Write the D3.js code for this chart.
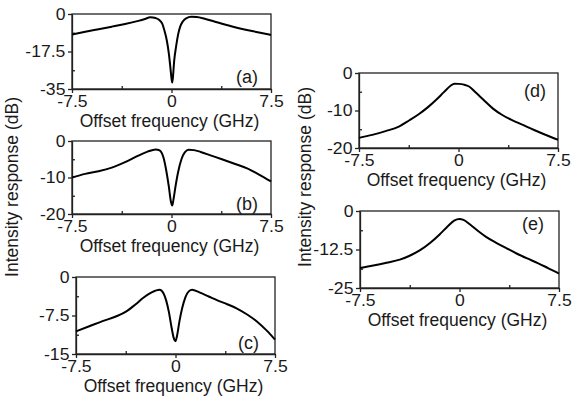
<!DOCTYPE html>
<html>
<head>
<meta charset="utf-8">
<script src="https://cdn.jsdelivr.net/npm/d3@7"></script>
<style>
  body { margin: 0; background: #fff; }
  text { font-family: "Liberation Sans", Arial, sans-serif; fill: #1a1a1a; }
</style>
</head>
<body>
<svg id="fig" width="584" height="403"></svg>
<script>
// offset frequency ticks (GHz), shared by all panels
var xTicks = [-7.5, 0, 7.5];
var xMinor = [-3.75, 3.75];

// (a)
var freqA = [-7.5, -6.5, -5.5, -4.5, -3.5, -2.5, -2.0, -1.6, -1.2, -0.9, -0.7, -0.5, -0.35, -0.2, -0.1, 0.0, 0.05, 0.1, 0.2, 0.35, 0.5, 0.65, 0.85, 1.1, 1.5, 1.9, 2.5, 3.5, 4.5, 5.5, 6.5, 7.5];
var respA = [-9.6, -8.3, -7.1, -5.9, -4.7, -3.2, -2.3, -1.5, -1.9, -2.9, -4.5, -8.5, -12.5, -18.5, -24, -30, -32, -30, -22, -15, -9.5, -6, -3.5, -2.0, -1.3, -1.4, -2.2, -4.0, -5.7, -7.2, -8.5, -9.8];
var yTicksA = [-35, -17.5, 0];
var yMinorA = [-26.25, -8.75];

// (b)
var freqB = [-7.5, -6.5, -5.5, -4.5, -3.5, -2.5, -1.8, -1.2, -0.9, -0.6, -0.4, -0.2, -0.05, 0.05, 0.15, 0.3, 0.5, 0.75, 1.0, 1.3, 1.7, 2.2, 3.0, 3.8, 4.8, 5.7, 6.6, 7.5];
var respB = [-10.0, -9.0, -8.3, -7.3, -5.8, -4.0, -2.9, -2.3, -2.6, -4.6, -8, -12.5, -16.5, -17.7, -16, -12.5, -8.5, -5, -3.1, -2.4, -2.5, -3.0, -4.0, -5.0, -6.3, -7.5, -9.2, -11.1];
var yTicksB = [-20, -10, 0];
var yMinorB = [-15, -5];

// (c)
var freqC = [-7.5, -6.5, -5.5, -4.5, -3.7, -3.0, -2.4, -1.8, -1.2, -0.9, -0.7, -0.5, -0.3, -0.12, 0.0, 0.12, 0.3, 0.5, 0.75, 1.0, 1.25, 1.8, 2.5, 3.2, 3.9, 4.6, 5.4, 6.2, 6.9, 7.5];
var respC = [-10.6, -9.6, -8.6, -7.7, -6.7, -5.3, -4.0, -3.0, -2.5, -3.2, -4.6, -6.8, -9.8, -12.0, -12.5, -11.4, -8.6, -6.1, -3.9, -2.8, -2.5, -3.0, -3.8, -4.6, -5.3, -6.1, -7.3, -8.8, -10.5, -12.2];
var yTicksC = [-15, -7.5, 0];
var yMinorC = [-11.25, -3.75];

// (d)
var freqD = [-7.5, -6.5, -5.5, -4.5, -3.7, -3.0, -2.3, -1.7, -1.1, -0.6, -0.3, 0.0, 0.4, 0.8, 1.3, 1.9, 2.6, 3.3, 4.0, 4.9, 5.7, 6.5, 7.5];
var respD = [-17.3, -16.5, -15.5, -14.3, -12.6, -11.0, -9.1, -7.2, -5.1, -3.4, -2.85, -2.9, -3.1, -3.6, -5.2, -7.2, -9.5, -11.2, -12.5, -13.9, -15.2, -16.4, -17.8];
var yTicksD = [-20, -10, 0];
var yMinorD = [-15, -5];

// (e)
var freqE = [-7.5, -6.5, -5.5, -4.5, -3.8, -3.0, -2.2, -1.5, -0.9, -0.4, 0.0, 0.3, 0.8, 1.4, 2.0, 2.8, 3.5, 4.3, 5.1, 5.9, 6.7, 7.5];
var respE = [-18.5, -17.7, -16.8, -15.8, -14.6, -12.8, -10.3, -7.6, -5.0, -3.1, -2.6, -2.9, -4.4, -6.5, -8.4, -10.4, -12.0, -13.8, -15.4, -16.9, -18.6, -20.3];
var yTicksE = [-25, -12.5, 0];
var yMinorE = [-18.75, -6.25];

var tags = ["(a)", "(b)", "(c)", "(d)", "(e)"];
var xTitle = "Offset frequency (GHz)";
var yTitle = "Intensity response (dB)";

// layout: [left, top, right, bottom] of each plot frame, tag position inside it
var panels = [
  { f: freqA, r: respA, ticks: yTicksA, minor: yMinorA, box: [72, 14, 271, 89],   tag: [186, 69] },
  { f: freqB, r: respB, ticks: yTicksB, minor: yMinorB, box: [72, 141, 271, 214], tag: [186, 69] },
  { f: freqC, r: respC, ticks: yTicksC, minor: yMinorC, box: [76, 277, 275, 354], tag: [183, 72] },
  { f: freqD, r: respD, ticks: yTicksD, minor: yMinorD, box: [359, 73, 558, 148], tag: [187, 24] },
  { f: freqE, r: respE, ticks: yTicksE, minor: yMinorE, box: [360, 211, 559, 288], tag: [184, 19] }
];

var svg = d3.select("#fig");
var fmt = function (d) { return String(d); };

panels.forEach(function (p, i) {
    var w = p.box[2] - p.box[0],
        h = p.box[3] - p.box[1];

    var x = d3.scaleLinear().domain([-7.5, 7.5]).range([0, w]);
    var y = d3.scaleLinear().domain([p.ticks[0], 0]).range([h, 0]);

    var g = svg.append("g")
        .attr("transform", "translate(" + p.box[0] + "," + p.box[1] + ")");

    // major ticks point out, minor ticks point in
    var gx = g.append("g")
        .attr("transform", "translate(0," + h + ")")
        .call(d3.axisBottom(x).tickValues(xTicks).tickSize(4).tickSizeOuter(0).tickPadding(3).tickFormat(fmt));
    g.append("g")
        .attr("transform", "translate(0," + h + ")")
        .call(d3.axisBottom(x).tickValues(xMinor).tickSize(-3).tickFormat(""))
        .select(".domain").remove();

    var gy = g.append("g")
        .call(d3.axisLeft(y).tickValues(p.ticks).tickSize(4).tickSizeOuter(0).tickPadding(2).tickFormat(fmt));
    g.append("g")
        .call(d3.axisLeft(y).tickValues(p.minor).tickSize(-3).tickFormat(""))
        .select(".domain").remove();

    [gx, gy].forEach(function (a) {
        a.selectAll(".tick text")
            .style("font-size", "16px")
            .attr("fill", "#1a1a1a")
            .attr("transform", "scale(1.1,1)");
    });
    g.selectAll(".domain, .tick line").attr("stroke", "#222").attr("stroke-width", 1.3);

    // top and right sides of the frame
    g.append("rect")
        .attr("width", w).attr("height", h)
        .attr("fill", "none").attr("stroke", "#222").attr("stroke-width", 1.3);

    g.append("path")
        .datum(d3.zip(p.f, p.r))
        .attr("fill", "none")
        .attr("stroke", "#000")
        .attr("stroke-width", 2)
        .attr("stroke-linejoin", "round")
        .attr("d", d3.line()
            .x(function (d) { return x(d[0]); })
            .y(function (d) { return y(d[1]); })
            .curve(d3.curveMonotoneX));

    g.append("text")
        .attr("x", p.tag[0]).attr("y", p.tag[1])
        .attr("text-anchor", "end")
        .style("font-size", "18px")
        .text(tags[i]);

    g.append("text")
        .attr("x", w / 2 - 2).attr("y", h + 38)
        .attr("text-anchor", "middle")
        .style("font-size", "17.5px")
        .text(xTitle);
});

svg.append("text")
    .attr("transform", "translate(18,187) rotate(-90)")
    .attr("text-anchor", "middle")
    .style("font-size", "17.5px")
    .text(yTitle);

svg.append("text")
    .attr("transform", "translate(311,177) rotate(-90)")
    .attr("text-anchor", "middle")
    .style("font-size", "17.5px")
    .text(yTitle);
</script>
</body>
</html>
